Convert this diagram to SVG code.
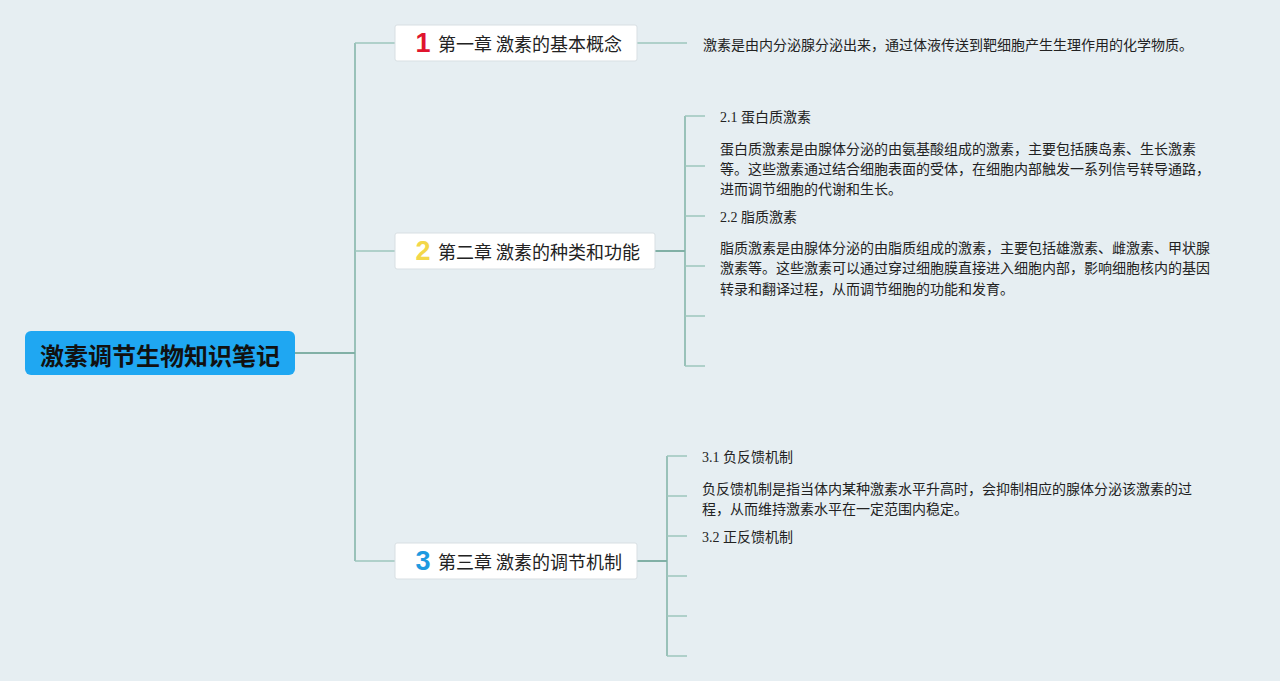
<svg xmlns="http://www.w3.org/2000/svg" width="1280" height="681" viewBox="0 0 1280 681">
<defs>
<style>
.bg{fill:#e6eef2}
.chap{fill:#ffffff;stroke:#d8dfe3;stroke-width:1}
.ct{font-family:"Noto Sans CJK SC","Noto Sans",sans-serif;font-size:18px;fill:#222;dominant-baseline:central}
.num{font-family:"Liberation Sans","Noto Sans",sans-serif;font-size:27px;font-weight:bold;dominant-baseline:central}
.lt{font-family:"Liberation Serif","Noto Sans CJK SC",serif;font-size:14px;fill:#222;dominant-baseline:central}
.lp{font-family:"Noto Sans CJK SC","Noto Sans",sans-serif;font-size:14px;fill:#222;dominant-baseline:central}
.trunk{stroke:#7fb2a6;stroke-width:1.5;fill:none}
.dark{stroke:#5f9b8c;stroke-width:1.5;fill:none}
.leaf{stroke:#9cc6bd;stroke-width:1.5;fill:none}
</style>
</defs>
<rect class="bg" x="0" y="0" width="1280" height="681"/>
<g id="connectors">
<line class="dark" x1="295" y1="353" x2="355" y2="353"/>
<line class="trunk" x1="355" y1="43" x2="355" y2="561"/>
<line class="leaf" x1="355" y1="43" x2="395" y2="43"/>
<line class="leaf" x1="355" y1="251" x2="395" y2="251"/>
<line class="leaf" x1="355" y1="561" x2="395" y2="561"/>
<line class="leaf" x1="637" y1="43" x2="687" y2="43"/>
<line class="dark" x1="655" y1="251" x2="685" y2="251"/>
<line class="trunk" x1="685" y1="116" x2="685" y2="366"/>
<line class="leaf" x1="685" y1="116" x2="705" y2="116"/>
<line class="leaf" x1="685" y1="166" x2="705" y2="166"/>
<line class="leaf" x1="685" y1="216" x2="705" y2="216"/>
<line class="leaf" x1="685" y1="266" x2="705" y2="266"/>
<line class="leaf" x1="685" y1="316" x2="705" y2="316"/>
<line class="leaf" x1="685" y1="366" x2="705" y2="366"/>
<line class="dark" x1="637" y1="561" x2="667" y2="561"/>
<line class="trunk" x1="667" y1="456" x2="667" y2="656"/>
<line class="leaf" x1="667" y1="456" x2="687" y2="456"/>
<line class="leaf" x1="667" y1="496" x2="687" y2="496"/>
<line class="leaf" x1="667" y1="536" x2="687" y2="536"/>
<line class="leaf" x1="667" y1="576" x2="687" y2="576"/>
<line class="leaf" x1="667" y1="616" x2="687" y2="616"/>
<line class="leaf" x1="667" y1="656" x2="687" y2="656"/>
</g>
<g id="root">
<rect x="25" y="331" width="270" height="44" rx="6" fill="#1fa7f2"/>
<text x="160" y="354" text-anchor="middle" font-family="Noto Sans CJK SC,sans-serif" font-size="24" font-weight="bold" fill="#111" dominant-baseline="central">激素调节生物知识笔记</text>
</g>
<g id="chapter1">
<rect class="chap" x="395" y="25" width="242" height="36" rx="2"/>
<text class="num" x="423" y="43" text-anchor="middle" fill="#e0152e">1</text>
<text class="ct" x="438" y="43">第一章 激素的基本概念</text>
</g>
<g id="chapter1-leaf">
<text class="lp" x="703" y="44">激素是由内分泌腺分泌出来，通过体液传送到靶细胞产生生理作用的化学物质。</text>
</g>
<g id="chapter2">
<rect class="chap" x="395" y="233" width="260" height="36" rx="2"/>
<text class="num" x="423" y="251" text-anchor="middle" fill="#f3d74a">2</text>
<text class="ct" x="438" y="251">第二章 激素的种类和功能</text>
</g>
<g id="leaf-2-1">
<text class="lt" x="720" y="117">2.1 蛋白质激素</text>
</g>
<g id="leaf-2-1-text">
<text class="lp" x="720" y="148">蛋白质激素是由腺体分泌的由氨基酸组成的激素，主要包括胰岛素、生长激素</text>
<text class="lp" x="720" y="168">等。这些激素通过结合细胞表面的受体，在细胞内部触发一系列信号转导通路，</text>
<text class="lp" x="720" y="188">进而调节细胞的代谢和生长。</text>
</g>
<g id="leaf-2-2">
<text class="lt" x="720" y="217">2.2 脂质激素</text>
</g>
<g id="leaf-2-2-text">
<text class="lp" x="720" y="247">脂质激素是由腺体分泌的由脂质组成的激素，主要包括雄激素、雌激素、甲状腺</text>
<text class="lp" x="720" y="267">激素等。这些激素可以通过穿过细胞膜直接进入细胞内部，影响细胞核内的基因</text>
<text class="lp" x="720" y="288">转录和翻译过程，从而调节细胞的功能和发育。</text>
</g>
<g id="chapter3">
<rect class="chap" x="395" y="543" width="242" height="36" rx="2"/>
<text class="num" x="423" y="561" text-anchor="middle" fill="#1d9ae0">3</text>
<text class="ct" x="438" y="561">第三章 激素的调节机制</text>
</g>
<g id="leaf-3-1">
<text class="lt" x="702" y="457">3.1 负反馈机制</text>
</g>
<g id="leaf-3-1-text">
<text class="lp" x="702" y="488">负反馈机制是指当体内某种激素水平升高时，会抑制相应的腺体分泌该激素的过</text>
<text class="lp" x="702" y="508">程，从而维持激素水平在一定范围内稳定。</text>
</g>
<g id="leaf-3-2">
<text class="lt" x="702" y="537">3.2 正反馈机制</text>
</g>
</svg>
